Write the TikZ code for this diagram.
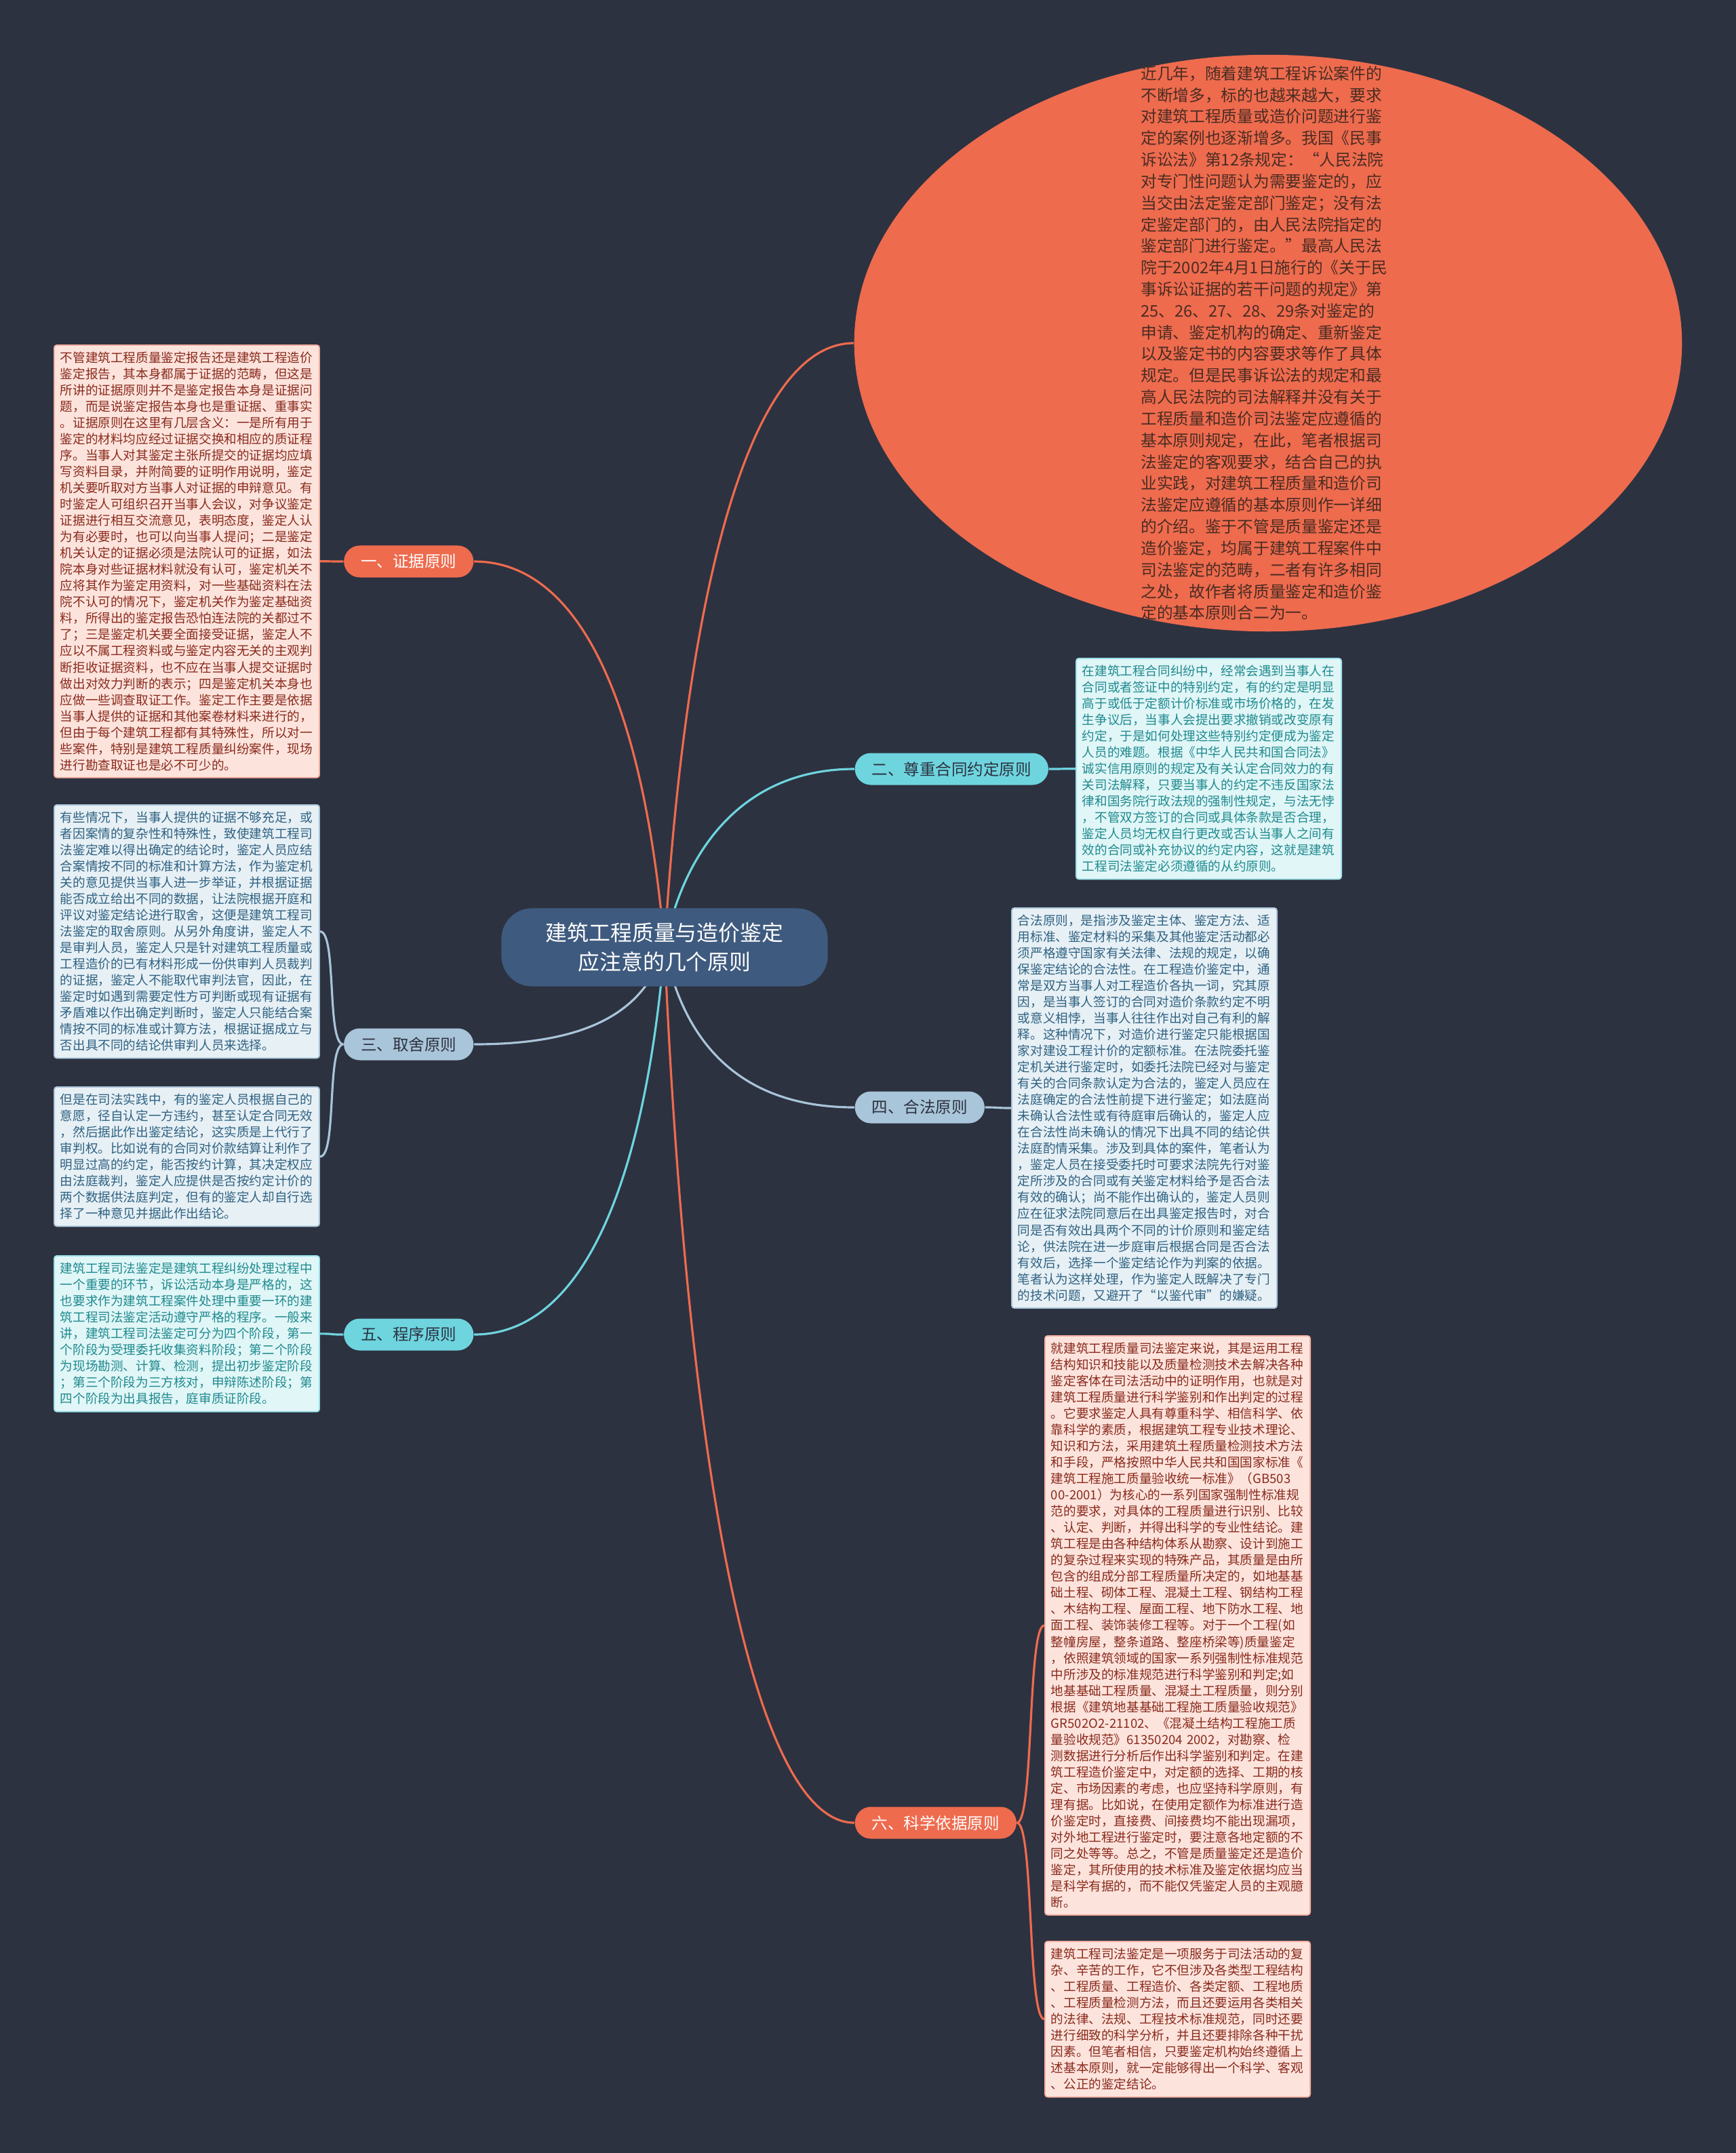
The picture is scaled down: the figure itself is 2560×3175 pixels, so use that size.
\documentclass[tikz,border=0pt]{standalone}
\usepackage{fontspec}
\newfontfamily\cjk{Noto Sans CJK SC}
\usetikzlibrary{calc,shapes.geometric}
\definecolor{night}{HTML}{2D3240}
\definecolor{coral}{HTML}{EE6B4E}
\definecolor{aqua}{HTML}{6ED5DF}
\definecolor{steel}{HTML}{A9C5D9}
\definecolor{hubblue}{HTML}{3E5A7F}
\definecolor{pinkfill}{HTML}{FCE4DD}
\definecolor{pinkink}{HTML}{8A2A1C}
\definecolor{aquafill}{HTML}{E1F6F7}
\definecolor{aquaink}{HTML}{1F8A8F}
\definecolor{steelfill}{HTML}{E7F0F5}
\definecolor{steelink}{HTML}{2F6282}
\definecolor{leadink}{HTML}{4A2C22}
\pgfdeclarelayer{links}
\pgfsetlayers{links,main}

\begin{document}
\begin{tikzpicture}[x=0.01cm,y=-0.01cm,
  hub/.style={fill=hubblue,text=white,rounded corners=0.45cm,minimum width=4.81cm,minimum height=1.15cm,align=center,font=\cjk\fontsize{9.05pt}{12.1pt}\selectfont},
  topic/.style={fill=#1,rounded corners=0.235cm,minimum height=0.47cm,inner xsep=0.25cm,inner ysep=0pt,font=\cjk\fontsize{6.69pt}{8pt}\selectfont},
  note/.style={anchor=north west,rounded corners=0.04cm,line width=0.5pt,text width=3.73cm,align=left,inner xsep=0.09cm,inner ysep=0.1cm,font=\cjk\fontsize{5.29pt}{6.83pt}\selectfont},
  rednote/.style={note,fill=pinkfill,draw=coral!55!white,text=pinkink},
  aquanote/.style={note,fill=aquafill,draw=aqua!70!white,text=aquaink},
  steelnote/.style={note,fill=steelfill,draw=steel,text=steelink},
  link/.style={draw=#1,line width=0.9pt},
  rhook/.style={to path={.. controls ($(\tikztostart)+(25,0)$) and ($(\tikztotarget)+(-25,0)$) .. (\tikztotarget)}},
  lhook/.style={to path={.. controls ($(\tikztostart)+(-25,0)$) and ($(\tikztotarget)+(25,0)$) .. (\tikztotarget)}}]
\begin{pgfonlayer}{links}
\fill[night] (0,0) rectangle (2560,3175);
\end{pgfonlayer}

\node[hub] (root) at (980,1397) {建筑工程质量与造价鉴定\\应注意的几个原则};

\node[ellipse,fill=coral,minimum width=12.2cm,minimum height=8.5cm,inner sep=0pt] (ell) at (1870,506) {};
\node[text width=3.75cm,align=left,inner sep=0pt,text=leadink,font=\cjk\fontsize{6.74pt}{9.05pt}\selectfont] (lead) at (ell.center) {近几年，随着建筑工程诉讼案件的\\
不断增多，标的也越来越大，要求\\
对建筑工程质量或造价问题进行鉴\\
定的案例也逐渐增多。我国《民事\\
诉讼法》第12条规定：“人民法院\\
对专门性问题认为需要鉴定的，应\\
当交由法定鉴定部门鉴定；没有法\\
定鉴定部门的，由人民法院指定的\\
鉴定部门进行鉴定。”最高人民法\\
院于2002年4月1日施行的《关于民\\
事诉讼证据的若干问题的规定》第\\
25、26、27、28、29条对鉴定的\\
申请、鉴定机构的确定、重新鉴定\\
以及鉴定书的内容要求等作了具体\\
规定。但是民事诉讼法的规定和最\\
高人民法院的司法解释并没有关于\\
工程质量和造价司法鉴定应遵循的\\
基本原则规定，在此，笔者根据司\\
法鉴定的客观要求，结合自己的执\\
业实践，对建筑工程质量和造价司\\
法鉴定应遵循的基本原则作一详细\\
的介绍。鉴于不管是质量鉴定还是\\
造价鉴定，均属于建筑工程案件中\\
司法鉴定的范畴，二者有许多相同\\
之处，故作者将质量鉴定和造价鉴\\
定的基本原则合二为一。};

\node[topic=coral,text=white,anchor=east] (b1) at (699,828) {一、证据原则};
\node[topic=aqua,text=night,anchor=west] (b2) at (1260,1134) {二、尊重合同约定原则};
\node[topic=steel,text=night,anchor=east] (b3) at (699,1540) {三、取舍原则};
\node[topic=steel,text=night,anchor=west] (b4) at (1260,1633) {四、合法原则};
\node[topic=aqua,text=night,anchor=east] (b5) at (699,1968) {五、程序原则};
\node[topic=coral,text=white,anchor=west] (b6) at (1260,2688) {六、科学依据原则};

\node[rednote] (z1) at (79,508) {不管建筑工程质量鉴定报告还是建筑工程造价\\
鉴定报告，其本身都属于证据的范畴，但这是\\
所讲的证据原则并不是鉴定报告本身是证据问\\
题，而是说鉴定报告本身也是重证据、重事实\\
。证据原则在这里有几层含义：一是所有用于\\
鉴定的材料均应经过证据交换和相应的质证程\\
序。当事人对其鉴定主张所提交的证据均应填\\
写资料目录，并附简要的证明作用说明，鉴定\\
机关要听取对方当事人对证据的申辩意见。有\\
时鉴定人可组织召开当事人会议，对争议鉴定\\
证据进行相互交流意见，表明态度，鉴定人认\\
为有必要时，也可以向当事人提问；二是鉴定\\
机关认定的证据必须是法院认可的证据，如法\\
院本身对些证据材料就没有认可，鉴定机关不\\
应将其作为鉴定用资料，对一些基础资料在法\\
院不认可的情况下，鉴定机关作为鉴定基础资\\
料，所得出的鉴定报告恐怕连法院的关都过不\\
了；三是鉴定机关要全面接受证据，鉴定人不\\
应以不属工程资料或与鉴定内容无关的主观判\\
断拒收证据资料，也不应在当事人提交证据时\\
做出对效力判断的表示；四是鉴定机关本身也\\
应做一些调查取证工作。鉴定工作主要是依据\\
当事人提供的证据和其他案卷材料来进行的，\\
但由于每个建筑工程都有其特殊性，所以对一\\
些案件，特别是建筑工程质量纠纷案件，现场\\
进行勘查取证也是必不可少的。};

\node[aquanote] (z2) at (1586,970) {在建筑工程合同纠纷中，经常会遇到当事人在\\
合同或者签证中的特别约定，有的约定是明显\\
高于或低于定额计价标准或市场价格的，在发\\
生争议后，当事人会提出要求撤销或改变原有\\
约定，于是如何处理这些特别约定便成为鉴定\\
人员的难题。根据《中华人民共和国合同法》\\
诚实信用原则的规定及有关认定合同效力的有\\
关司法解释，只要当事人的约定不违反国家法\\
律和国务院行政法规的强制性规定，与法无悖\\
，不管双方签订的合同或具体条款是否合理，\\
鉴定人员均无权自行更改或否认当事人之间有\\
效的合同或补充协议的约定内容，这就是建筑\\
工程司法鉴定必须遵循的从约原则。};

\node[steelnote] (z3a) at (79,1186) {有些情况下，当事人提供的证据不够充足，或\\
者因案情的复杂性和特殊性，致使建筑工程司\\
法鉴定难以得出确定的结论时，鉴定人员应结\\
合案情按不同的标准和计算方法，作为鉴定机\\
关的意见提供当事人进一步举证，并根据证据\\
能否成立给出不同的数据，让法院根据开庭和\\
评议对鉴定结论进行取舍，这便是建筑工程司\\
法鉴定的取舍原则。从另外角度讲，鉴定人不\\
是审判人员，鉴定人只是针对建筑工程质量或\\
工程造价的已有材料形成一份供审判人员裁判\\
的证据，鉴定人不能取代审判法官，因此，在\\
鉴定时如遇到需要定性方可判断或现有证据有\\
矛盾难以作出确定判断时，鉴定人只能结合案\\
情按不同的标准或计算方法，根据证据成立与\\
否出具不同的结论供审判人员来选择。};

\node[steelnote] (z3b) at (79,1602) {但是在司法实践中，有的鉴定人员根据自己的\\
意愿，径自认定一方违约，甚至认定合同无效\\
，然后据此作出鉴定结论，这实质是上代行了\\
审判权。比如说有的合同对价款结算让利作了\\
明显过高的约定，能否按约计算，其决定权应\\
由法庭裁判，鉴定人应提供是否按约定计价的\\
两个数据供法庭判定，但有的鉴定人却自行选\\
择了一种意见并据此作出结论。};

\node[steelnote] (z4) at (1491,1338) {合法原则，是指涉及鉴定主体、鉴定方法、适\\
用标准、鉴定材料的采集及其他鉴定活动都必\\
须严格遵守国家有关法律、法规的规定，以确\\
保鉴定结论的合法性。在工程造价鉴定中，通\\
常是双方当事人对工程造价各执一词，究其原\\
因，是当事人签订的合同对造价条款约定不明\\
或意义相悖，当事人往往作出对自己有利的解\\
释。这种情况下，对造价进行鉴定只能根据国\\
家对建设工程计价的定额标准。在法院委托鉴\\
定机关进行鉴定时，如委托法院已经对与鉴定\\
有关的合同条款认定为合法的，鉴定人员应在\\
法庭确定的合法性前提下进行鉴定；如法庭尚\\
未确认合法性或有待庭审后确认的，鉴定人应\\
在合法性尚未确认的情况下出具不同的结论供\\
法庭酌情采集。涉及到具体的案件，笔者认为\\
，鉴定人员在接受委托时可要求法院先行对鉴\\
定所涉及的合同或有关鉴定材料给予是否合法\\
有效的确认；尚不能作出确认的，鉴定人员则\\
应在征求法院同意后在出具鉴定报告时，对合\\
同是否有效出具两个不同的计价原则和鉴定结\\
论，供法院在进一步庭审后根据合同是否合法\\
有效后，选择一个鉴定结论作为判案的依据。\\
笔者认为这样处理，作为鉴定人既解决了专门\\
的技术问题，又避开了“以鉴代审”的嫌疑。};

\node[aquanote] (z5) at (79,1851) {建筑工程司法鉴定是建筑工程纠纷处理过程中\\
一个重要的环节，诉讼活动本身是严格的，这\\
也要求作为建筑工程案件处理中重要一环的建\\
筑工程司法鉴定活动遵守严格的程序。一般来\\
讲，建筑工程司法鉴定可分为四个阶段，第一\\
个阶段为受理委托收集资料阶段；第二个阶段\\
为现场勘测、计算、检测，提出初步鉴定阶段\\
；第三个阶段为三方核对，申辩陈述阶段；第\\
四个阶段为出具报告，庭审质证阶段。};

\node[rednote] (z6a) at (1540,1969) {就建筑工程质量司法鉴定来说，其是运用工程\\
结构知识和技能以及质量检测技术去解决各种\\
鉴定客体在司法活动中的证明作用，也就是对\\
建筑工程质量进行科学鉴别和作出判定的过程\\
。它要求鉴定人具有尊重科学、相信科学、依\\
靠科学的素质，根据建筑工程专业技术理论、\\
知识和方法，采用建筑土程质量检测技术方法\\
和手段，严格按照中华人民共和国国家标准《\\
建筑工程施工质量验收统一标准》（GB503\\
00-2001）为核心的一系列国家强制性标准规\\
范的要求，对具体的工程质量进行识别、比较\\
、认定、判断，并得出科学的专业性结论。建\\
筑工程是由各种结构体系从勘察、设计到施工\\
的复杂过程来实现的特殊产品，其质量是由所\\
包含的组成分部工程质量所决定的，如地基基\\
础土程、砌体工程、混凝土工程、钢结构工程\\
、木结构工程、屋面工程、地下防水工程、地\\
面工程、装饰装修工程等。对于一个工程(如\\
整幢房屋，整条道路、整座桥梁等)质量鉴定\\
，依照建筑领域的国家一系列强制性标准规范\\
中所涉及的标准规范进行科学鉴别和判定;如\\
地基基础工程质量、混凝土工程质量，则分别\\
根据《建筑地基基础工程施工质量验收规范》\\
GR502O2-21102、《混凝土结构工程施工质\\
量验收规范》61350204~2002，对勘察、检\\
测数据进行分析后作出科学鉴别和判定。在建\\
筑工程造价鉴定中，对定额的选择、工期的核\\
定、市场因素的考虑，也应坚持科学原则，有\\
理有据。比如说，在使用定额作为标准进行造\\
价鉴定时，直接费、间接费均不能出现漏项，\\
对外地工程进行鉴定时，要注意各地定额的不\\
同之处等等。总之，不管是质量鉴定还是造价\\
鉴定，其所使用的技术标准及鉴定依据均应当\\
是科学有据的，而不能仅凭鉴定人员的主观臆\\
断。};

\node[rednote] (z6b) at (1540,2862) {建筑工程司法鉴定是一项服务于司法活动的复\\
杂、辛苦的工作，它不但涉及各类型工程结构\\
、工程质量、工程造价、各类定额、工程地质\\
、工程质量检测方法，而且还要运用各类相关\\
的法律、法规、工程技术标准规范，同时还要\\
进行细致的科学分析，并且还要排除各种干扰\\
因素。但笔者相信，只要鉴定机构始终遵循上\\
述基本原则，就一定能够得出一个科学、客观\\
、公正的鉴定结论。};

\begin{pgfonlayer}{links}
\draw[link=coral] (root.center) .. controls ($(root.center)+(30,-500)$) and ($(ell.west)+(-160,0)$) .. (ell.west);
\draw[link=aqua] (root.center) .. controls ($(root.center)+(30,-150)$) and ($(b2.west)+(-160,0)$) .. (b2.west);
\draw[link=steel] (root.center) .. controls ($(root.center)+(30,150)$) and ($(b4.west)+(-160,0)$) .. (b4.west);
\draw[link=coral] (root.center) .. controls ($(root.center)+(30,700)$) and ($(b6.west)+(-160,0)$) .. (b6.west);
\draw[link=coral] (root.center) .. controls ($(root.center)+(-30,-350)$) and ($(b1.east)+(160,0)$) .. (b1.east);
\draw[link=steel] (root.center) .. controls ($(root.center)+(-30,100)$) and ($(b3.east)+(160,0)$) .. (b3.east);
\draw[link=aqua] (root.center) .. controls ($(root.center)+(-30,350)$) and ($(b5.east)+(160,0)$) .. (b5.east);
\draw[link=coral] (b1.west) to[lhook] (z1.east);
\draw[link=aqua] (b2.east) to[rhook] (z2.west);
\draw[link=steel] (b3.west) to[lhook] (z3a.east);
\draw[link=steel] (b3.west) to[lhook] (z3b.east);
\draw[link=steel] (b4.east) to[rhook] (z4.west);
\draw[link=aqua] (b5.west) to[lhook] (z5.east);
\draw[link=coral] (b6.east) to[rhook] (z6a.west);
\draw[link=coral] (b6.east) to[rhook] (z6b.west);
\end{pgfonlayer}
\end{tikzpicture}
\end{document}
